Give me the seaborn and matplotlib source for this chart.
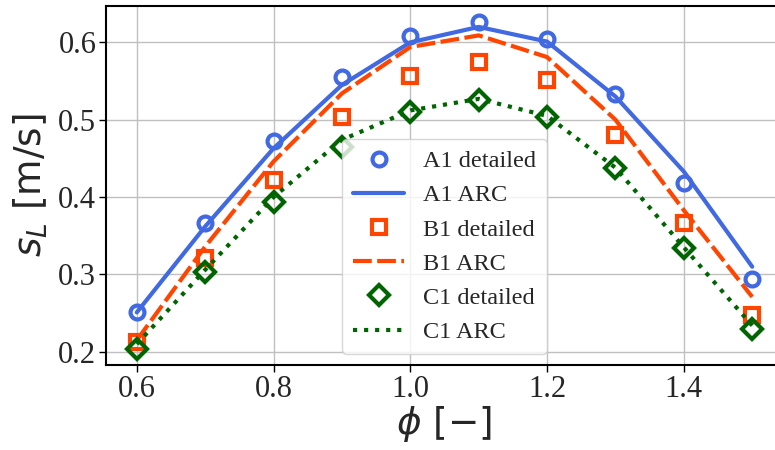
import numpy as np
import pandas as pd
import matplotlib
matplotlib.use("Agg")
import matplotlib.pyplot as plt
import seaborn as sns

phi = [0.6, 0.7, 0.8, 0.9, 1.0, 1.1, 1.2, 1.3, 1.4, 1.5]

a1_detailed = [0.251, 0.367, 0.473, 0.555, 0.608, 0.626, 0.604, 0.533, 0.418, 0.294]
a1_arc      = [0.251, 0.362, 0.463, 0.545, 0.600, 0.620, 0.601, 0.530, 0.433, 0.310]
b1_detailed = [0.213, 0.321, 0.422, 0.503, 0.556, 0.574, 0.551, 0.480, 0.366, 0.247]
b1_arc      = [0.215, 0.336, 0.446, 0.534, 0.594, 0.609, 0.581, 0.500, 0.383, 0.271]
c1_detailed = [0.204, 0.303, 0.394, 0.465, 0.510, 0.526, 0.504, 0.437, 0.334, 0.230]
c1_arc      = [0.210, 0.306, 0.400, 0.474, 0.512, 0.527, 0.505, 0.438, 0.335, 0.234]

labels = ["A1 detailed", "A1 ARC", "B1 detailed", "B1 ARC", "C1 detailed", "C1 ARC"]
colors = ["#4169E1", "#FF4500", "#006400"]

sns.set_theme(style="ticks")
plt.rcParams["font.family"] = ["Liberation Serif", "DejaVu Sans"]
plt.rcParams["mathtext.fontset"] = "dejavusans"

fig = plt.figure(figsize=(7.75, 4.5), dpi=100)
ax = fig.add_axes([106/775, 85/450, (783-106)/775, (444-85)/450])

mk = dict(linestyle="none", markerfacecolor="none", markeredgewidth=3, markersize=10)

sns.lineplot(x=phi, y=a1_detailed, ax=ax, marker="o", color=colors[0], markeredgecolor=colors[0], label=labels[0], **mk)
sns.lineplot(x=phi, y=a1_arc, ax=ax, color=colors[0], linewidth=3, label=labels[1])
sns.lineplot(x=phi, y=b1_detailed, ax=ax, marker="s", color=colors[1], markeredgecolor=colors[1], label=labels[2], **mk)
sns.lineplot(x=phi, y=b1_arc, ax=ax, color=colors[1], linewidth=3, linestyle=(0, (4.5, 1.3)), label=labels[3])
sns.lineplot(x=phi, y=c1_detailed, ax=ax, marker="D", color=colors[2], markeredgecolor=colors[2], label=labels[4], **mk)
sns.lineplot(x=phi, y=c1_arc, ax=ax, color=colors[2], linewidth=3, linestyle=":", label=labels[5])

ax.set_xlim(0.555, 1.545)
ax.set_ylim(0.183, 0.647)
ax.set_xticks([0.6, 0.8, 1.0, 1.2, 1.4])
ax.set_yticks([0.2, 0.3, 0.4, 0.5, 0.6])
ax.set_xticklabels(["0.6", "0.8", "1.0", "1.2", "1.4"])
ax.set_yticklabels(["0.2", "0.3", "0.4", "0.5", "0.6"])
ax.tick_params(labelsize=22, length=5, width=1, color="black", pad=2)
ax.grid(True, color="#c0c0c0", linewidth=1)
for s in ax.spines.values():
    s.set_color("black")
    s.set_linewidth(1.5)

ax.set_xlabel(r"$\phi$ [$-$]", fontsize=27, family="DejaVu Sans", labelpad=0)
ax.set_ylabel(r"$s_L$ [m/s]", fontsize=27, family="DejaVu Sans", labelpad=6)

ax.legend(loc="lower center", fontsize=17.5, framealpha=0.8, borderaxespad=0.45,
          handlelength=2.1, labelspacing=0.5, handletextpad=0.75, borderpad=0.45)

fig.savefig("out.png", dpi=100)
